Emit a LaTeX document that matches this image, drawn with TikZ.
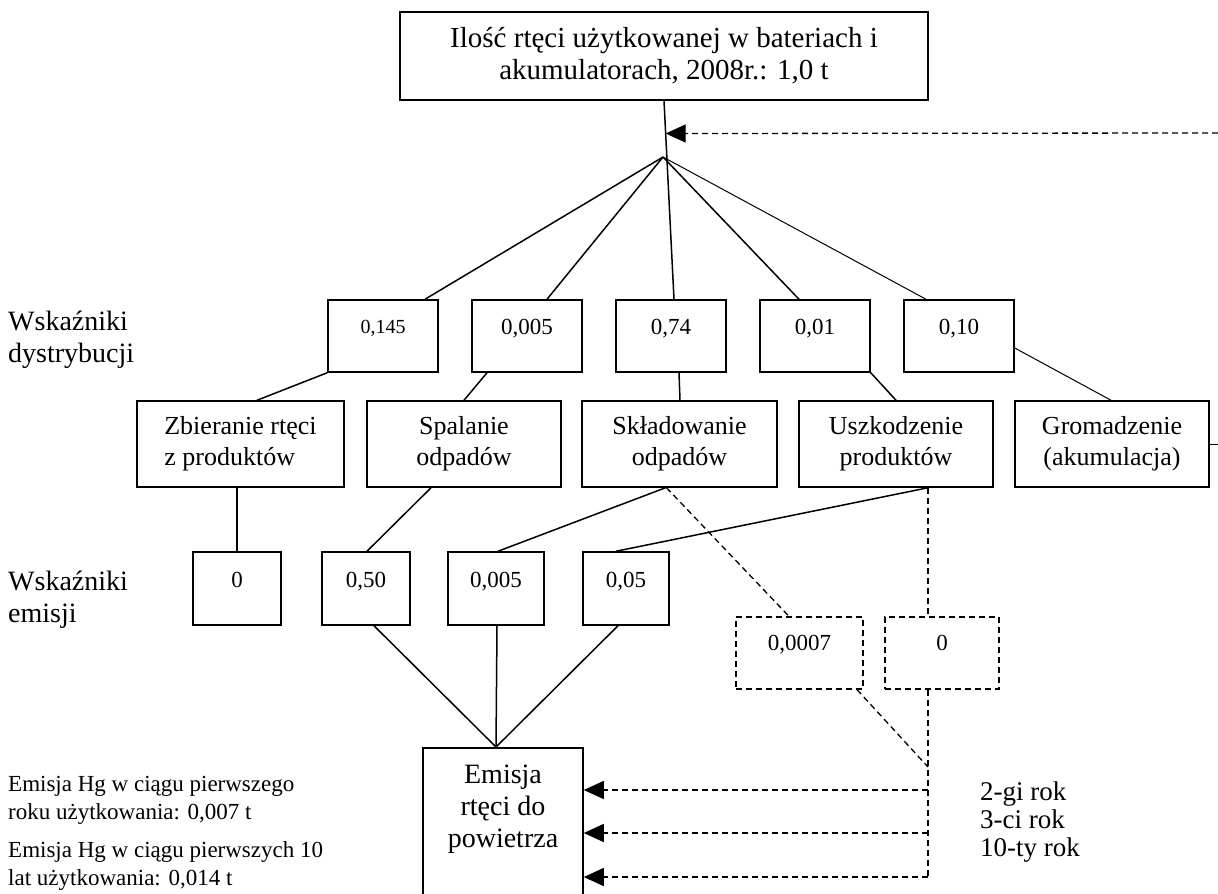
\documentclass[tikz,border=0pt]{standalone}
\usepackage{fontspec}
\setmainfont{Liberation Serif}
\usetikzlibrary{arrows.meta,calc}
\newcommand\FsMain{\fontsize{28}{32}\selectfont}
\newcommand\FsTop{\fontsize{29}{32}\selectfont}
\newcommand\FsProc{\fontsize{26}{31}\selectfont}
\newcommand\FsNum{\fontsize{23}{27}\selectfont}
\newcommand\FsSmallNum{\fontsize{20}{23}\selectfont}
\newcommand\FsNote{\fontsize{23}{28}\selectfont}
\newcommand\FsYear{\fontsize{27}{28}\selectfont}
\begin{document}
\begin{tikzpicture}[x=1pt,y=-1pt,
  box/.style={draw, line width=1.5pt, inner sep=0pt, align=center},
  numbox/.style={box, font=\FsNum, minimum height=72pt},
  procbox/.style={box, font=\FsProc, minimum width=194pt, minimum height=86pt},
  embox/.style={box, font=\FsNum, minimum height=73pt, text depth=17pt},
  dbox/.style={draw, line width=1.3pt, dash pattern=on 6pt off 4pt, inner sep=0pt, font=\FsNum, minimum height=72pt, text depth=20pt},
  wire/.style={line width=1.5pt},
  thinwire/.style={line width=1pt},
  dline/.style={line width=1.3pt, dash pattern=on 6pt off 4pt},
  arr/.style={-{Triangle[length=20pt,width=18pt]}},
  lab/.style={align=left, anchor=west, inner sep=0pt}
]
\useasboundingbox (0,0) rectangle (1218,894);

% top box
\node[box, font=\FsTop, minimum width=528pt, minimum height=88pt] (top) at (664,56)
  {Ilość rtęci użytkowanej w bateriach i\\akumulatorach, 2008r.: 1,0 t};

% distribution boxes
\node[numbox, minimum width=110pt, font=\FsSmallNum, text depth=18pt] (d1) at (383,336) {0,145};
\node[numbox, minimum width=110pt, text depth=18pt] (d2) at (527,336) {0,005};
\node[numbox, minimum width=110pt, text depth=18pt] (d3) at (671,336) {0,74};
\node[numbox, minimum width=110pt, text depth=18pt] (d4) at (815,336) {0,01};
\node[numbox, minimum width=110pt, text depth=18pt] (d5) at (959,336) {0,10};

% process boxes
\node[procbox, minimum width=207pt, align=left] (p1) at (240.5,444) {Zbieranie rtęci\\z produktów};
\node[procbox] (p2) at (464,444) {Spalanie\\odpadów};
\node[procbox, minimum width=195pt] (p3) at (679.5,444) {Składowanie\\odpadów};
\node[procbox] (p4) at (896,444) {Uszkodzenie\\produktów};
\node[procbox] (p5) at (1112,444) {Gromadzenie\\(akumulacja)};

% emission boxes
\node[embox, minimum width=88pt] (e1) at (237,588.5) {0};
\node[embox, minimum width=88pt] (e2) at (366,588.5) {0,50};
\node[embox, minimum width=96pt] (e3) at (496,588.5) {0,005};
\node[embox, minimum width=86pt] (e4) at (626,588.5) {0,05};

% dashed boxes
\node[dbox, minimum width=127pt] (q1) at (799.5,653) {0,0007};
\node[dbox, minimum width=114pt] (q2) at (942,653) {0};

% emission to air box (bottom runs off the page)
\node[box, anchor=north, minimum width=160pt, minimum height=170pt] (b) at (503,747) {};
\node[align=center, font=\FsMain, inner sep=0pt] (btext) at (503,809) {Emisja\\rtęci do\\powietrza};

% labels
\node[lab, font=\FsMain] (labd) at (8,340) {Wskaźniki\\dystrybucji};
\node[lab, font=\FsMain] (labe) at (8,600) {Wskaźniki\\emisji};
\node[lab, font=\FsYear] (years) at (980,822) {2-gi rok\\3-ci rok\\10-ty rok};
\node[lab, font=\FsNote] (note1) at (8,800) {Emisja Hg w ciągu pierwszego\\roku użytkowania: 0,007 t};
\node[lab, font=\FsNote] (note2) at (8,866) {Emisja Hg w ciągu pierwszych 10\\lat użytkowania: 0,014 t};

% coordinates
\coordinate (hub) at (663,157);
\coordinate (src) at (1218,133);
\coordinate (tip) at ($(top.south)!0.165!([xshift=3pt]d3.north)$);
\coordinate (tick) at (1218,444);
\coordinate (j) at (928,767);
\coordinate (k1) at (928,790);
\coordinate (k2) at (928,833);
\coordinate (k3) at (928,877);
\coordinate (bt) at ([xshift=-7pt]b.north);

% top to distribution
\draw[wire] (top.south) -- ([xshift=3pt]d3.north);
\draw[dline, arr] (src) -- (tip);
\draw[wire] (hub) -- ([xshift=42pt]d1.north);
\draw[wire] (hub) -- ([xshift=20pt]d2.north);
\draw[wire] (hub) -- ([xshift=-16pt]d4.north);
\draw[thinwire] (hub) -- ([xshift=-33pt]d5.north);

% distribution to process
\draw[wire] (d1.south west) -- ([xshift=16.5pt]p1.north);
\draw[wire] ([xshift=-40pt]d2.south) -- (p2.north);
\draw[wire] ([xshift=8pt]d3.south) -- ([xshift=0.5pt]p3.north);
\draw[wire] (d4.south east) -- (p4.north);
\draw[thinwire] ([yshift=-12pt]d5.east) -- ([xshift=-1pt]p5.north);
\draw[thinwire] (p5.east) -- (tick);

% process to emission
\draw[wire] ([xshift=-3.5pt]p1.south) -- (e1.north);
\draw[wire] ([xshift=-33pt]p2.south) -- ([xshift=1pt]e2.north);
\draw[wire] ([xshift=-14pt]p3.south) -- ([xshift=2pt]e3.north);
\draw[wire] ([xshift=32pt]p4.south) -- ([xshift=-10pt]e4.north);

% dashed branches
\draw[dline] ([xshift=-13pt]p3.south) -- ([xshift=-10.5pt]q1.north);
\draw[dline] ([xshift=32pt]p4.south) -- ([xshift=-14pt]q2.north);
\draw[dline] ([xshift=57.5pt]q1.south) -- (j);
\draw[dline] ([xshift=-14pt]q2.south) -- (k3);
\draw[dline, arr] (k1) -- (k1 -| b.east);
\draw[dline, arr] (k2) -- (k2 -| b.east);
\draw[dline, arr] (k3) -- (k3 -| b.east);

% emission to air
\draw[wire] ([xshift=8pt]e2.south) -- (bt);
\draw[wire] ([xshift=1pt]e3.south) -- (bt);
\draw[wire] ([xshift=-8pt]e4.south) -- (bt);
\end{tikzpicture}
\end{document}
